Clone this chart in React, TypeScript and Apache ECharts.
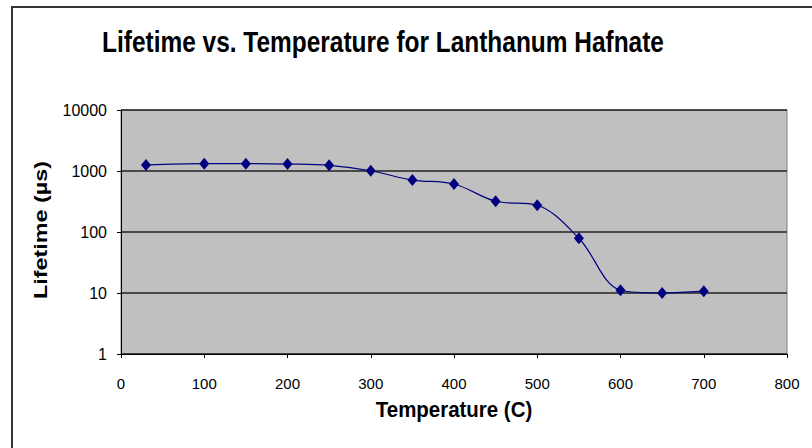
import React, { useEffect, useRef } from "react";
import * as echarts from "echarts";

const temperatures = [30, 100, 150, 200, 250, 300, 350, 400, 450, 500, 550, 600, 650, 700];
const lifetimes = [1250, 1320, 1320, 1300, 1240, 1010, 711, 612, 319, 274, 79, 11.1, 10, 10.7];
const xTicks = [0, 100, 200, 300, 400, 500, 600, 700, 800];
const yTicks = [1, 10, 100, 1000, 10000];

const titleText = "Lifetime vs. Temperature for Lanthanum Hafnate";
const xTitle = "Temperature (C)";
const yTitle = "Lifetime (µs)";

export default function App() {
  const ref = useRef<HTMLDivElement>(null);
  useEffect(() => {
    if (!ref.current) return;
    const chart = echarts.init(ref.current, undefined, { renderer: "svg" });
    const font = "'Liberation Sans', Arial, sans-serif";
    chart.setOption({
      animation: false,
      backgroundColor: "#ffffff",
      graphic: [
        {
          type: "polyline",
          shape: { points: [[12, 460], [12, 7], [820, 7]] },
          style: { stroke: "#333", lineWidth: 2, fill: "none" },
          silent: true,
        },
        {
          type: "text",
          x: 383,
          y: 42,
          scaleX: 0.815,
          style: { text: titleText, font: `bold 30px ${font}`, fill: "#000", textAlign: "center", textVerticalAlign: "middle" },
        },
        {
          type: "text",
          x: 454,
          y: 410,
          scaleX: 0.93,
          style: { text: xTitle, font: `bold 22px ${font}`, fill: "#000", textAlign: "center", textVerticalAlign: "middle" },
        },
        {
          type: "text",
          x: 41,
          y: 230,
          rotation: Math.PI / 2,
          scaleX: 1.3,
          style: { text: yTitle, font: `bold 18px ${font}`, fill: "#000", textAlign: "center", textVerticalAlign: "middle" },
        },
      ],
      grid: { left: 121, top: 110, width: 666, height: 244, show: true, backgroundColor: "#C0C0C0", borderColor: "#808080", borderWidth: 1 },
      xAxis: {
        type: "value",
        min: xTicks[0],
        max: xTicks[xTicks.length - 1],
        interval: 100,
        axisLine: { lineStyle: { color: "#000", width: 1 } },
        axisTick: { show: true, length: 4, inside: false, lineStyle: { color: "#000" } },
        axisLabel: { fontFamily: font, fontSize: 15, color: "#000", margin: 22 },
        splitLine: { show: false },
      },
      yAxis: {
        type: "log",
        logBase: 10,
        min: yTicks[0],
        max: yTicks[yTicks.length - 1],
        axisLine: { show: true, lineStyle: { color: "#000", width: 1 } },
        axisTick: { show: true, length: 4, inside: false, lineStyle: { color: "#000" } },
        axisLabel: { fontFamily: font, fontSize: 16, color: "#000", margin: 14, formatter: (v: number) => String(v) },
        splitLine: { show: true, lineStyle: { color: "#222", width: 1.5 } },
      },
      series: [
        {
          type: "line",
          data: temperatures.map((t, i) => [t, lifetimes[i]]),
          smooth: 0.35,
          symbol: "diamond",
          symbolSize: [10, 12],
          itemStyle: { color: "#000080" },
          lineStyle: { color: "#000080", width: 1.2 },
        },
      ],
    });
    return () => chart.dispose();
  }, []);
  return <div ref={ref} style={{ position: "fixed", left: 0, top: 0, width: 812, height: 448 }} />;
}
